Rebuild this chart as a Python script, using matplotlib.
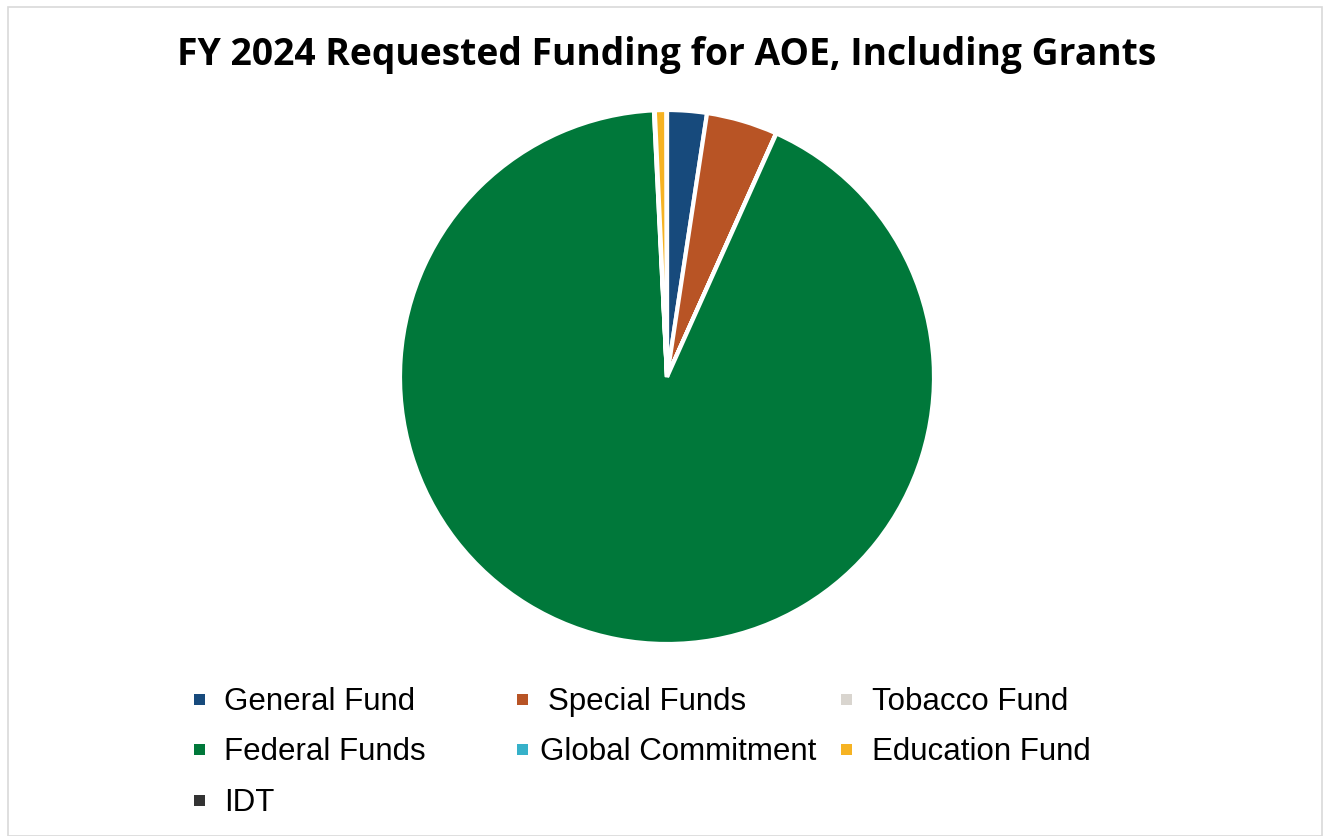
import matplotlib
matplotlib.use("Agg")
import matplotlib.pyplot as plt
from matplotlib.patches import Rectangle

categories = ["General Fund", "Special Funds", "Tobacco Fund", "Federal Funds",
              "Global Commitment", "Education Fund", "IDT"]
values = [2.4, 4.3, 0.02, 92.5, 0.05, 0.7, 0.03]
colors = ["#174A7C", "#B85425", "#D9D5CF", "#00783A", "#36B1C9", "#F6B323", "#333333"]
title = "FY 2024 Requested Funding for AOE, Including Grants"

W, H = 1326, 837
fig = plt.figure(figsize=(W / 100, H / 100), dpi=100)

# border
fig.patches.append(Rectangle((8 / W, 0), (W - 12) / W, (H - 8) / H, transform=fig.transFigure,
                             fill=False, edgecolor="#D9D9D9", linewidth=1.2))

cx, cy, r = 667, 378, 267
ax = fig.add_axes([(cx - r) / W, (H - cy - r) / H, 2 * r / W, 2 * r / H])
ax.pie(values, colors=colors, startangle=90, counterclock=False, radius=1,
       wedgeprops=dict(edgecolor="white", linewidth=3))
ax.set_xlim(-1.0, 1.0)
ax.set_ylim(-1.0, 1.0)
ax.set_aspect("equal")
ax.axis("off")

fig.text(667 / W, 1 - 55 / H, title, ha="center", va="center",
         fontsize=26.8, fontweight="bold", family="Open Sans")

# legend laid out row-wise in 3 columns
col_x = [199, 522, 846]
text_x = [224, 540, 872]
row_y = [700, 750, 801]
for i, (lab, col) in enumerate(zip(categories, colors)):
    rr, cc = divmod(i, 3)
    mx, my = col_x[cc], row_y[rr]
    fig.patches.append(Rectangle(((mx - 5.5) / W, 1 - (my + 5.5) / H), 11 / W, 11 / H,
                                 transform=fig.transFigure, facecolor=col, edgecolor="none"))
    tx = text_x[cc] if not (cc == 1 and rr == 0) else 548
    fig.text(tx / W, 1 - (my + 2.5) / H, lab, ha="left", va="center", fontsize=22.5,
             family="Liberation Sans")

fig.savefig("out.png", dpi=100)
